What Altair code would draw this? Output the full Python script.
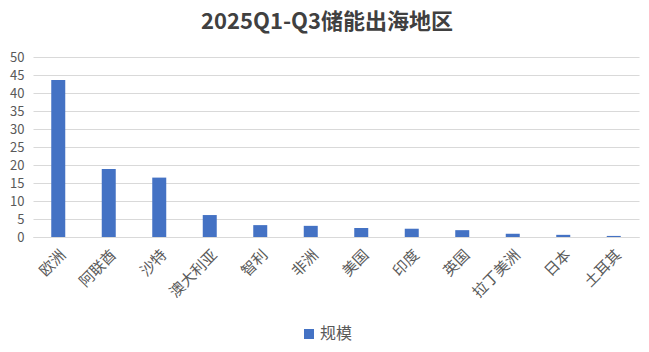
import altair as alt
import pandas as pd

regions = ["欧洲", "阿联酋", "沙特", "澳大利亚", "智利", "非洲", "美国", "印度", "英国", "拉丁美洲", "日本", "土耳其"]
values = [43.6, 18.9, 16.5, 6.1, 3.3, 3.1, 2.5, 2.3, 1.9, 0.9, 0.6, 0.3]
series = ["规模"] * len(regions)

df = pd.DataFrame({"地区": regions, "规模值": values, "系列": series})

FONT = "Noto Sans CJK SC"

chart = (
    alt.Chart(df)
    .mark_bar(size=14, color="#4472C4")
    .encode(
        x=alt.X(
            "地区:N",
            sort=regions,
            title=None,
            scale=alt.Scale(paddingInner=0.0, paddingOuter=0.0),
            axis=alt.Axis(
                labelAngle=-45,
                labelFontSize=15,
                labelColor="#595959",
                labelFont=FONT,
                ticks=False,
                domainColor="#d9d9d9",
                labelPadding=10,
                grid=False,
            ),
        ),
        y=alt.Y(
            "规模值:Q",
            title=None,
            scale=alt.Scale(domain=[0, 50], nice=False),
            axis=alt.Axis(
                values=list(range(0, 51, 5)),
                labelFontSize=13,
                labelColor="#595959",
                labelFont=FONT,
                ticks=False,
                domain=False,
                gridColor="#d9d9d9",
                labelPadding=9,
            ),
        ),
        color=alt.Color(
            "系列:N",
            scale=alt.Scale(range=["#4472C4"]),
            legend=alt.Legend(
                title=None,
                orient="none",
                legendX=268,
                legendY=269,
                symbolType="square",
                symbolSize=100,
                labelFontSize=16,
                labelColor="#595959",
                labelFont=FONT,
                labelOffset=3,
            ),
        ),
    )
    .properties(
        width=606,
        height=180,
        autosize=alt.AutoSizeParams(type="none"),
        padding={"left": 33, "top": 57, "right": 10, "bottom": 115},
        title=alt.TitleParams(
            "2025Q1-Q3储能出海地区",
            anchor="middle",
            fontSize=22,
            fontWeight="bold",
            font=FONT,
            color="#404040",
            offset=17,
            dx=-9,
        ),
    )
    .configure_view(stroke=None)
)

chart.save("out.html", embed_options={"renderer": "svg", "actions": False})
